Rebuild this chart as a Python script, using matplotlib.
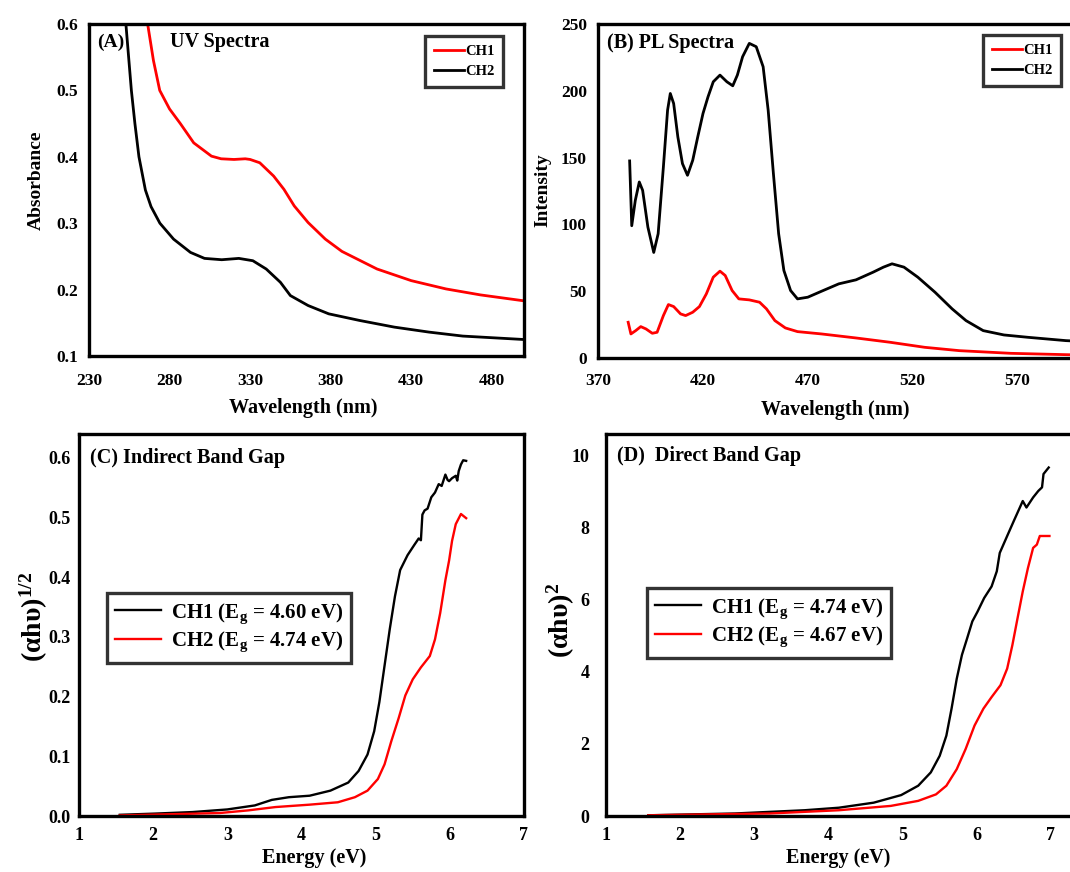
import matplotlib
matplotlib.use("Agg")
import matplotlib.pyplot as plt
from matplotlib.ticker import FormatStrFormatter

plt.rcParams['font.family'] = ['Liberation Serif', 'DejaVu Serif']
plt.rcParams['font.weight'] = 'bold'
plt.rcParams['mathtext.fontset'] = 'custom'
plt.rcParams['mathtext.rm'] = 'Liberation Serif:bold'
plt.rcParams['mathtext.bf'] = 'Liberation Serif:bold'
plt.rcParams['mathtext.it'] = 'Liberation Serif:bold'
plt.rcParams['mathtext.default'] = 'bf'

# ---------------- (A) UV spectra ----------------
uv_ch1_wl = [266.4, 270, 273.9, 280, 286.7, 295, 306, 312, 320, 327, 330, 336, 344.6, 351, 357.4,
             366, 376.7, 387, 408.8, 430, 451.6, 473, 498.7]
uv_ch1_abs = [0.600, 0.545, 0.500, 0.472, 0.450, 0.421, 0.401, 0.397, 0.396, 0.397, 0.396, 0.391, 0.371,
              0.351, 0.326, 0.301, 0.276, 0.2575, 0.231, 0.2135, 0.201, 0.192, 0.1835]
uv_ch2_wl = [252.9, 256.3, 258.5, 261, 265, 268.5, 274, 282.5, 293, 301.7, 312.4, 323, 331.7, 340,
             348.8, 355, 366, 378.8, 398, 419.5, 441, 462, 498.7]
uv_ch2_abs = [0.600, 0.500, 0.450, 0.400, 0.350, 0.325, 0.300, 0.276, 0.256, 0.247, 0.245, 0.247,
              0.2435, 0.231, 0.211, 0.191, 0.176, 0.1635, 0.1535, 0.1435, 0.136, 0.130, 0.125]

# ---------------- (B) PL spectra ----------------
pl_ch2_wl = [385.1, 386.1, 387.8, 389.7, 391.3, 393.8, 396.6, 398.7, 401.2, 403.2, 404.5, 406.1, 408.1,
             410.3, 412.7, 415.2, 417.6, 420.1, 422.5, 425, 428.2, 431.5, 434.3, 436.5, 439, 442.2,
             445.5, 448.8, 451.2, 453.7, 456.2, 458.7, 461.9, 465.2, 470.1, 476.7, 484.9, 493.1,
             501.3, 506.2, 510.3, 516, 522.6, 530.8, 539, 545.6, 553.8, 563.7, 575.1, 593.3, 600]
pl_ch2_int = [147.5, 99, 118, 131.75, 125.5, 98, 79, 93, 143, 185.5, 198, 190.5, 165.5, 145.5, 136.75,
              148, 165.5, 183, 195.5, 206.75, 211.75, 206.75, 203.75, 211.75, 225.5, 235.5, 233, 218,
              185.5, 138, 93, 65.5, 50.5, 44.25, 45.5, 50, 55.5, 58.5, 64.25, 68, 70.5, 68, 60.5,
              49.25, 36.75, 28, 20.5, 17.25, 15.5, 13, 12.5]
pl_ch1_wl = [384.4, 385.7, 388, 390.4, 392.9, 395.9, 398.2, 401.2, 403.6, 406.1, 409.4, 411.8, 415.2,
             418.4, 421.7, 425, 428.2, 430.7, 434, 437.2, 442.2, 447.1, 450.4, 454.4, 459.4, 465.2,
             476.7, 493.1, 509.5, 525.9, 542.4, 567, 593.3, 600]
pl_ch1_int = [26.75, 18, 20.5, 23.5, 21.75, 18.5, 19.25, 31.75, 40, 38.5, 33, 31.75, 34.25, 38.5, 48,
              60.5, 65, 61.75, 50.5, 44.25, 43.5, 41.75, 36.75, 28, 22.5, 19.75, 18, 15, 11.75, 8,
              5.5, 3.5, 2.5, 2.3]

# ---------------- (C) Indirect band gap ----------------
ind_ch1_e = [1.55, 2.02, 2.53, 3.0, 3.37, 3.6, 3.83, 4.11, 4.39, 4.63, 4.77, 4.89, 4.98, 5.05, 5.12,
             5.19, 5.26, 5.33, 5.43, 5.52, 5.58, 5.61, 5.63, 5.66, 5.70, 5.75, 5.80, 5.85, 5.89,
             5.94, 5.97, 5.99, 6.03, 6.08, 6.10, 6.12, 6.15, 6.18, 6.22]
ind_ch1_y = [0.002, 0.004, 0.0066, 0.011, 0.0177, 0.027, 0.0315, 0.034, 0.0425, 0.056, 0.0755, 0.103,
             0.142, 0.191, 0.252, 0.313, 0.368, 0.412, 0.437, 0.454, 0.465, 0.462, 0.505, 0.512, 0.515,
             0.534, 0.542, 0.556, 0.553, 0.572, 0.563, 0.561, 0.566, 0.570, 0.562, 0.578, 0.589, 0.596,
             0.595]
ind_ch2_e = [1.55, 2.25, 2.9, 3.28, 3.65, 4.11, 4.49, 4.72, 4.89, 5.03, 5.12, 5.21, 5.31, 5.4, 5.5,
             5.61, 5.73, 5.8, 5.87, 5.94, 5.99, 6.03, 6.08, 6.15, 6.22]
ind_ch2_y = [0.001, 0.003, 0.005, 0.0094, 0.015, 0.019, 0.023, 0.0315, 0.0425, 0.062, 0.0866, 0.125,
             0.164, 0.202, 0.229, 0.249, 0.268, 0.296, 0.340, 0.395, 0.428, 0.461, 0.489, 0.506, 0.499]

# ---------------- (D) Direct band gap ----------------
dir_ch1_e = [1.57, 2.74, 3.68, 4.14, 4.61, 4.98, 5.21, 5.38, 5.5, 5.59, 5.66, 5.73, 5.8, 5.87, 5.94,
             6.01, 6.1, 6.2, 6.27, 6.31, 6.41, 6.5, 6.57, 6.62, 6.67, 6.76, 6.83, 6.88, 6.9, 6.97]
dir_ch1_y = [0.02, 0.07, 0.16, 0.23, 0.37, 0.58, 0.84, 1.21, 1.67, 2.23, 2.98, 3.81, 4.47, 4.93, 5.4,
             5.67, 6.05, 6.37, 6.79, 7.3, 7.77, 8.19, 8.51, 8.74, 8.56, 8.84, 9.02, 9.12, 9.49, 9.67]
dir_ch2_e = [1.57, 3.21, 4.14, 4.84, 5.21, 5.45, 5.59, 5.73, 5.85, 5.97, 6.09, 6.2, 6.32, 6.41, 6.48,
             6.55, 6.62, 6.69, 6.76, 6.81, 6.85, 6.98]
dir_ch2_y = [0.02, 0.07, 0.16, 0.28, 0.42, 0.6, 0.84, 1.3, 1.86, 2.51, 2.98, 3.3, 3.63, 4.09, 4.74,
             5.49, 6.23, 6.88, 7.44, 7.53, 7.77, 7.77]

uv_xticks = [230, 280, 330, 380, 430, 480]
uv_yticks = [0.1, 0.2, 0.3, 0.4, 0.5, 0.6]
pl_xticks = [370, 420, 470, 520, 570]
pl_yticks = [0, 50, 100, 150, 200, 250]
e_ticks = [1, 2, 3, 4, 5, 6, 7]
ind_yticks = [0.0, 0.1, 0.2, 0.3, 0.4, 0.5, 0.6]
dir_yticks = [0, 2, 4, 6, 8, 10]

W, H = 1070, 872
fig = plt.figure(figsize=(W / 100, H / 100), dpi=100)


def box(l, t, r, b):
    return [l / W, 1 - b / H, (r - l) / W, (b - t) / H]


axA = fig.add_axes(box(89, 24, 524, 356))
axB = fig.add_axes(box(598, 24, 1080, 358))
axC = fig.add_axes(box(79, 434, 524, 816))
axD = fig.add_axes(box(606, 434, 1088, 816))

RED = '#ff0000'
BLK = '#000000'

for ax in (axA, axB, axC, axD):
    for s in ax.spines.values():
        s.set_linewidth(2.4)
        s.set_color('black')
    ax.tick_params(length=0, pad=8)

small_leg = dict(loc='upper left', fontsize=10.5, frameon=True, fancybox=False, edgecolor='black',
                 handlelength=2.1, handletextpad=0.05, borderaxespad=0, borderpad=0.6,
                 labelspacing=0.5)

# A
axA.plot(uv_ch1_wl, uv_ch1_abs, color=RED, lw=2.0, label='CH1')
axA.plot(uv_ch2_wl, uv_ch2_abs, color=BLK, lw=2.0, label='CH2')
axA.set_xlim(230, 500)
axA.set_ylim(0.1, 0.6)
axA.set_xticks(uv_xticks)
axA.set_yticks(uv_yticks)
axA.yaxis.set_major_formatter(FormatStrFormatter('%.1f'))
axA.tick_params(labelsize=12.5)
axA.tick_params(axis='x', pad=12)
axA.set_xlabel('Wavelength (nm)', fontsize=14.5, fontweight='bold')
axA.set_ylabel('Absorbance', fontsize=14, fontweight='bold')
axA.xaxis.set_label_coords(0.492, -0.127)
axA.yaxis.set_label_coords(-0.102, 0.53)
axA.text(0.018, 0.946, '(A)', transform=axA.transAxes, fontsize=14, fontweight='bold', va='center')
axA.text(0.186, 0.946, 'UV Spectra', transform=axA.transAxes, fontsize=14.5, fontweight='bold', va='center')
legA = axA.legend(bbox_to_anchor=(0.772, 0.964), **small_leg)
legA.get_frame().set_linewidth(2.4)

# B
axB.plot(pl_ch1_wl, pl_ch1_int, color=RED, lw=2.0, label='CH1')
axB.plot(pl_ch2_wl, pl_ch2_int, color=BLK, lw=2.0, label='CH2')
axB.set_xlim(370, 600)
axB.set_ylim(0, 250)
axB.set_xticks(pl_xticks)
axB.set_yticks(pl_yticks)
axB.tick_params(labelsize=12.5)
axB.tick_params(axis='x', pad=11)
axB.set_xlabel('Wavelength (nm)', fontsize=14.5, fontweight='bold')
axB.set_ylabel('Intensity', fontsize=14, fontweight='bold')
axB.xaxis.set_label_coords(0.492, -0.126)
axB.yaxis.set_label_coords(-0.097, 0.503)
axB.text(0.019, 0.943, '(B) PL Spectra', transform=axB.transAxes, fontsize=14.5, fontweight='bold', va='center')
legB = axB.legend(bbox_to_anchor=(0.799, 0.967), **small_leg)
legB.get_frame().set_linewidth(2.4)

big_leg = dict(loc='upper left', fontsize=15, frameon=True, fancybox=False, edgecolor='black',
               handlelength=2.2, handletextpad=0.45, borderaxespad=0, borderpad=0.4,
               labelspacing=0.2)

# C
axC.plot(ind_ch1_e, ind_ch1_y, color=BLK, lw=1.7, label=r'CH1 (E$_{\mathbf{g}}$ = 4.60 eV)')
axC.plot(ind_ch2_e, ind_ch2_y, color=RED, lw=1.7, label=r'CH2 (E$_{\mathbf{g}}$ = 4.74 eV)')
axC.set_xlim(1, 7)
axC.set_ylim(0, 0.64)
axC.set_xticks(e_ticks)
axC.set_yticks(ind_yticks)
axC.yaxis.set_major_formatter(FormatStrFormatter('%.1f'))
axC.tick_params(labelsize=13)
axC.tick_params(axis='y', pad=6)
axC.set_xlabel('Energy (eV)', fontsize=14.5, fontweight='bold')
axC.set_ylabel(r'(αhυ)$^{\mathbf{1/2}}$', fontsize=20, fontweight='bold')
axC.xaxis.set_label_coords(0.528, -0.084)
axC.yaxis.set_label_coords(-0.066, 0.52)
axC.text(0.025, 0.937, '(C) Indirect Band Gap', transform=axC.transAxes, fontsize=14.5, fontweight='bold', va='center')
legC = axC.legend(bbox_to_anchor=(0.063, 0.584), **big_leg)
legC.get_frame().set_linewidth(2.4)

# D
axD.plot(dir_ch1_e, dir_ch1_y, color=BLK, lw=1.7, label=r'CH1 (E$_{\mathbf{g}}$ = 4.74 eV)')
axD.plot(dir_ch2_e, dir_ch2_y, color=RED, lw=1.7, label=r'CH2 (E$_{\mathbf{g}}$ = 4.67 eV)')
axD.set_xlim(1, 7.5)
axD.set_ylim(0, 10.6)
axD.set_xticks(e_ticks)
axD.set_yticks(dir_yticks)
axD.tick_params(labelsize=13)
axD.tick_params(axis='y', pad=12)
axD.set_xlabel('Energy (eV)', fontsize=14.5, fontweight='bold')
axD.set_ylabel(r'(αhυ)$^{\mathbf{2}}$', fontsize=20, fontweight='bold')
axD.xaxis.set_label_coords(0.481, -0.084)
axD.yaxis.set_label_coords(-0.06, 0.513)
axD.text(0.023, 0.942, '(D)  Direct Band Gap', transform=axD.transAxes, fontsize=14.5, fontweight='bold', va='center')
legD = axD.legend(bbox_to_anchor=(0.085, 0.597), **big_leg)
legD.get_frame().set_linewidth(2.4)

fig.savefig('out.png', dpi=100)
